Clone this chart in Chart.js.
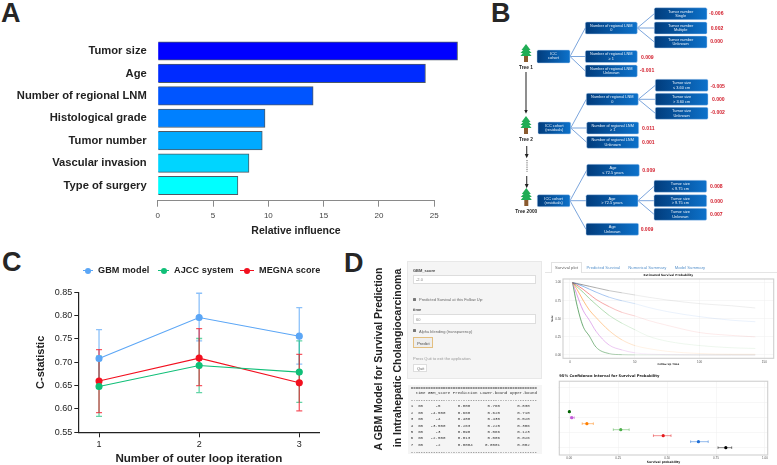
<!DOCTYPE html>
<html><head><meta charset="utf-8">
<style>
html,body{margin:0;padding:0;background:#fff;overflow:hidden;width:777px;height:465px;font-family:"Liberation Sans",Arial,sans-serif}
canvas,.abs,svg{position:absolute}
.abs{white-space:pre;line-height:1;box-sizing:border-box}
</style>
<script src="https://cdn.jsdelivr.net/npm/chart.js@4/dist/chart.umd.min.js"></script>
</head><body>
<script>
/* ---------- Panel A data ---------- */
const influenceLabels=["Tumor size","Age","Number of regional LNM","Histological grade","Tumor number","Vascular invasion","Type of surgery"];
const influenceValues=[27.1,24.2,14.05,9.7,9.45,8.25,7.25];
const influenceColors=["#0000ff","#002bff","#0055ff","#0080ff","#00aaff","#00d5ff","#00ffff"];
const influenceTicks=[0,5,10,15,20,25];

/* ---------- Panel C data ---------- */
const iterations=[1,2,3];
const gbmC=[0.708,0.796,0.756], gbmLow=[0.648,0.746,0.696], gbmHigh=[0.770,0.848,0.817];
const ajccC=[0.648,0.693,0.679], ajccLow=[0.584,0.635,0.614], ajccHigh=[0.713,0.751,0.746];
const megnaC=[0.660,0.709,0.656], megnaLow=[0.592,0.650,0.596], megnaHigh=[0.727,0.772,0.717];

/* ---------- Panel D: survival curves ---------- */
const followUp=[2,5,10,15,20,30,40,50,60,75,100,125,143];
const survA=[1,.99,.97,.95,.93,.89,.86,.83,.80,.76,.71,.68,.65];
const survB=[1,.985,.95,.91,.87,.80,.75,.71,.66,.60,.53,.48,.46];
const survC=[1,.97,.91,.84,.77,.67,.59,.54,.48,.41,.31,.27,.25];
const survD=[1,.95,.87,.78,.70,.55,.44,.35,.263,.19,.13,.10,.09];
const survE=[1,.92,.76,.62,.52,.34,.21,.13,.09,.05,.02,.01,.01];
const survF=[1,.85,.62,.48,.33,.14,.07,.03,.013,.005,0,0,0];
const survG=[1,.72,.40,.26,.11,.02,.004,.001,.0004,0,0,0,0];
const survTicksX=[0,50,100,150], survTicksY=[0,.25,.5,.75,1];

/* ---------- Panel D: prediction table / CI ---------- */
const tScores=["-5","-4.500","-4","-3.500","-3","-2.500","-2"];
const tPred=["0.800","0.660","0.480","0.263","0.090","0.013","0.0004"];
const tLow=["0.760","0.620","0.430","0.225","0.066","0.006","0.0001"];
const tHigh=["0.830","0.710","0.520","0.306","0.123","0.026","0.002"];
const ciRows=[1,2,3,4,5,6,7];
const ciColors=["#000000","#1f6fd6","#e41a1c","#4daf4a","#ff7f00","#c45cd9","#006400"];
const ciTicksX=[0,.25,.5,.75,1], ciTicksY=[1,3.5,6,8.5,11];

/* ---------- Panel B text ---------- */
const bNodeText=[
 ["ICC","cohort"],
 ["Number of regional LNM","0"],["Number of regional LNM","≥ 1"],["Number of regional LNM","Unknown"],
 ["Tumor number","Single"],["Tumor number","Multiple"],["Tumor number","Unknown"],
 ["ICC cohort","(residuals)"],
 ["Number of regional LNM","0"],["Number of regional LNM","≥ 1"],["Number of regional LNM","Unknown"],
 ["Tumor size","≤ 3.60 cm"],["Tumor size","> 3.60 cm"],["Tumor size","Unknown"],
 ["ICC cohort","(residuals)"],
 ["Age","≤ 72.5 years"],["Age","> 72.5 years"],["Age","Unknown"],
 ["Tumor size","≤ 9.75 cm"],["Tumor size","> 9.75 cm"],["Tumor size","Unknown"]];
const bLeafValues=["-0.006","0.002","0.000","0.009","-0.001","-0.005","0.000","-0.002","0.011","0.001","0.009","0.008","0.000","0.007","0.009"];
const bTreeNames=["Tree 1","Tree 2","Tree 2000"];

/* ---------- Layout for the diagram (B) ---------- */
const bBoxes=[[537,50,33,13],[585.3,22,52,12],[585.3,50.5,52,12],[585.3,65,52,12],[654.3,7.7,52.7,12],[654.3,22,52.7,12],[654.3,36,52.7,12],
 [538,122,32.7,12],[586.3,93.3,52,12],[586.7,122,52,12],[586.7,136.3,52,12],[655.3,79.3,52.7,12],[655.3,93.3,52.7,12],[655.3,107.3,52.7,12],
 [537.3,194.7,32.7,12],[586.7,164.3,52.6,12],[586,194.7,52,12],[586,223.3,52.6,12],[654,180.3,52.7,12],[654,194.7,52.7,12],[654,208.3,52.7,12]];
const bEdges=[[0,1],[0,2],[0,3],[1,4],[1,5],[1,6],[7,8],[7,9],[7,10],[8,11],[8,12],[8,13],[14,15],[14,16],[14,17],[16,18],[16,19],[16,20]];
const bLeafPos=[[716.3,13],[717,28.3],[716.5,41.3],[647.3,57],[647,70],[717.7,85.7],[718.3,99],[717.7,112.3],[648.3,127.7],[648.3,142.3],[648.7,170],[716.3,186],[716.5,200.7],[716.3,214.3],[647,229.3]];
const bTrees=[[526,44,67],[526,116,139],[526.3,188,211]];

const SANS='"Liberation Sans",Arial,sans-serif';
Chart.defaults.animation=false;
Chart.defaults.responsive=false;
Chart.defaults.devicePixelRatio=1;
Chart.defaults.font.family=SANS;
Chart.defaults.plugins.legend.display=false;
Chart.defaults.plugins.tooltip.enabled=false;

function add(tag,css,text){const e=document.createElement(tag);e.style.cssText=css;if(text!==undefined)e.textContent=text;document.body.appendChild(e);return e;}
function box(x,y,w,h,css,text){return add('div',`left:${x}px;top:${y}px;width:${w}px;height:${h}px;${css||''}`,text);}
function label(x,y,text,css){const e=add('div',`left:${x}px;top:${y}px;${css||''}`,text);e.className='abs';return e;}
function canvasAt(x,y,w,h){const c=document.createElement('canvas');c.width=w;c.height=h;c.style.left=x+'px';c.style.top=y+'px';c.style.width=w+'px';c.style.height=h+'px';document.body.appendChild(c);return c;}
const fixW=w=>s=>{s.width=w;s.paddingTop=0;s.paddingBottom=0;};
const fixH=h=>s=>{s.height=h;s.paddingLeft=0;s.paddingRight=0;};

/* error bars drawn through the chart's own scales */
const errorBars={id:'errorBars',beforeDatasetsDraw(chart){
  const ctx=chart.ctx;
  chart.data.datasets.forEach(ds=>{
    if(!ds.errLow)return;
    const xs=chart.scales.x,ys=chart.scales.y,cap=ds.errCap;
    ds.data.forEach((p,i)=>{
      ctx.save();
      ctx.strokeStyle=Array.isArray(ds.errColor)?ds.errColor[i]:ds.errColor;
      ctx.lineWidth=ds.errWidth;
      ctx.beginPath();
      if(ds.errAxis==='y'){
        const x=xs.getPixelForValue(p.x),a=ys.getPixelForValue(ds.errLow[i]),b=ys.getPixelForValue(ds.errHigh[i]);
        ctx.moveTo(x,a);ctx.lineTo(x,b);ctx.moveTo(x-cap,a);ctx.lineTo(x+cap,a);ctx.moveTo(x-cap,b);ctx.lineTo(x+cap,b);
      }else{
        const y=ys.getPixelForValue(p.y),a=xs.getPixelForValue(ds.errLow[i]),b=xs.getPixelForValue(ds.errHigh[i]);
        ctx.moveTo(a,y);ctx.lineTo(b,y);ctx.moveTo(a,y-cap);ctx.lineTo(a,y+cap);ctx.moveTo(b,y-cap);ctx.lineTo(b,y+cap);
      }
      ctx.stroke();ctx.restore();
    });
  });
}};
const frame={id:'frame',afterDraw(chart,args,o){
  if(!o.color)return;const a=chart.chartArea,c=chart.ctx;c.save();c.strokeStyle=o.color;c.lineWidth=o.width;c.strokeRect(a.left,a.top,a.width,a.height);c.restore();
}};

/* ---------- Panel letters ---------- */
[["A",1,-2],["B",491,-2],["C",2,247],["D",344,248]].forEach(([t,x,y])=>label(x,y,t,`font:bold 27px ${SANS};color:#262626;`));

/* ---------- Panel A ---------- */
new Chart(canvasAt(0,30,480,215),{type:'bar',
 data:{datasets:[{data:influenceValues.map((v,i)=>({x:v,y:i})),backgroundColor:influenceColors,borderColor:'#4d5a66',borderWidth:1,barThickness:18.5,clip:false}]},
 options:{indexAxis:'y',layout:{autoPadding:false,padding:{top:9.8,right:45.7,bottom:7.4,left:0}},
  scales:{
   y:{type:'linear',offset:false,min:-0.5,max:6.68,reverse:true,afterFit:fixW(157.7),
      afterBuildTicks:s=>{s.ticks=influenceLabels.map((_,i)=>({value:i}));},
      grid:{display:false,drawTicks:false},border:{display:false},
      ticks:{autoSkip:false,padding:11,color:'#222',font:{size:11.2,weight:'bold'},callback:v=>influenceLabels[v]}},
   x:{type:'linear',min:0,max:25,afterFit:fixH(36.9),
      afterBuildTicks:s=>{s.ticks=influenceTicks.map(v=>({value:v}));},
      grid:{drawOnChartArea:false,tickLength:6,color:'#8a8a8a'},border:{color:'#8a8a8a'},
      ticks:{padding:4,color:'#444',font:{size:8},maxRotation:0},
      title:{display:true,text:'Relative influence',color:'#222',padding:0,font:{size:10.5,weight:'bold'}}}
  }}});

/* ---------- Panel B ---------- */
(function(){
 const NS='http://www.w3.org/2000/svg';
 const s=document.createElementNS(NS,'svg');
 s.setAttribute('width',777);s.setAttribute('height',245);s.style.left='0';s.style.top='0';
 const mk=(n,a,t)=>{const e=document.createElementNS(NS,n);for(const k in a)e.setAttribute(k,a[k]);if(t!==undefined)e.textContent=t;s.appendChild(e);return e;};
 const defs=mk('defs',{});
 const g=document.createElementNS(NS,'linearGradient');g.id='nodeFill';
 [['0%','#013c7c'],['100%','#0d72cb']].forEach(([o,c])=>{const st=document.createElementNS(NS,'stop');st.setAttribute('offset',o);st.setAttribute('stop-color',c);g.appendChild(st);});
 defs.appendChild(g);
 const m=document.createElementNS(NS,'marker');m.id='arrow';m.setAttribute('markerWidth',4);m.setAttribute('markerHeight',4);m.setAttribute('refX',2);m.setAttribute('refY',2);m.setAttribute('orient','auto');
 const mp=document.createElementNS(NS,'path');mp.setAttribute('d','M0,0.4L3.4,2L0,3.6z');mp.setAttribute('fill','#222');m.appendChild(mp);defs.appendChild(m);
 bEdges.forEach(([a,b])=>{const p=bBoxes[a],q=bBoxes[b];
   mk('line',{x1:p[0]+p[2],y1:p[1]+p[3]/2,x2:q[0],y2:q[1]+q[3]/2,stroke:'#6c9bd8','stroke-width':.9});});
 bBoxes.forEach((r,i)=>{
   mk('rect',{x:r[0],y:r[1],width:r[2],height:r[3],rx:1.5,fill:'url(#nodeFill)',stroke:'#b5d0f0','stroke-width':.5});
   bNodeText[i].forEach((t,k)=>mk('text',{x:r[0]+r[2]/2,y:r[1]+4.9+k*4.4,'text-anchor':'middle','font-size':3.9,'font-family':SANS,fill:'#e8f1fb'},t));
 });
 bLeafValues.forEach((t,i)=>mk('text',{x:bLeafPos[i][0],y:bLeafPos[i][1]+1.9,'text-anchor':'middle','font-size':5.1,'font-weight':'bold','font-family':SANS,fill:'#d3202e'},t));
 bTrees.forEach(([cx,top,ly],i)=>{
   mk('rect',{x:cx-2,y:top+10.5,width:4,height:7.5,fill:'#8a5a2e'});
   mk('polygon',{points:`${cx},${top} ${cx+4.5},${top+6} ${cx-4.5},${top+6}`,fill:'#21ad55'});
   mk('polygon',{points:`${cx},${top+3} ${cx+5.5},${top+9} ${cx-5.5},${top+9}`,fill:'#21ad55'});
   mk('polygon',{points:`${cx},${top+5} ${cx+5.5},${top+12} ${cx-5.5},${top+12}`,fill:'#21ad55'});
   mk('text',{x:cx,y:ly+1.8,'text-anchor':'middle','font-size':4.8,'font-weight':'bold','font-family':SANS,fill:'#222'},bTreeNames[i]);
 });
 [[526,72,526,112],[526.7,146,526.7,156.5],[526.7,176,526.7,186.5]].forEach(([x1,y1,x2,y2])=>
   mk('line',{x1,y1,x2,y2,stroke:'#444','stroke-width':1.2,'marker-end':'url(#arrow)'}));
 mk('line',{x1:527,y1:160,x2:527,y2:172,stroke:'#666','stroke-width':1,'stroke-dasharray':'1 .8'});
 document.body.appendChild(s);
})();

/* ---------- Panel C ---------- */
const xy=arr=>arr.map((v,i)=>({x:iterations[i],y:v}));
const cSeries=(name,vals,low,high,color,err)=>({label:name,data:xy(vals),errLow:low,errHigh:high,errAxis:'y',errCap:3,errWidth:1.3,errColor:err,
  borderColor:color,backgroundColor:color,pointBackgroundColor:color,pointBorderColor:color,pointRadius:3,borderWidth:1.1,tension:0});
new Chart(canvasAt(0,240,340,230),{type:'line',
 data:{datasets:[
   cSeries('GBM model',gbmC,gbmLow,gbmHigh,'#5ba6f6','rgba(91,166,246,.7)'),
   cSeries('AJCC system',ajccC,ajccLow,ajccHigh,'#10bf78','rgba(16,191,120,.65)'),
   cSeries('MEGNA score',megnaC,megnaLow,megnaHigh,'#f2101f','rgba(242,16,31,.7)')]},
 options:{layout:{autoPadding:false,padding:{top:52.3,right:20.7,bottom:4.5,left:0}},
  scales:{
   x:{type:'linear',min:0.793,max:3.2,afterFit:fixH(33.2),
      afterBuildTicks:s=>{s.ticks=iterations.map(v=>({value:v}));},
      grid:{drawOnChartArea:false,tickLength:5,color:'#222',lineWidth:1},border:{color:'#222',width:1.2},
      ticks:{padding:2,color:'#222',font:{size:9},maxRotation:0,callback:v=>String(v)},
      title:{display:true,text:'Number of outer loop iteration',color:'#222',padding:0,font:{size:11.6,weight:'bold'}}},
   y:{type:'linear',min:.55,max:.85,afterFit:fixW(78.3),
      grid:{drawOnChartArea:false,tickLength:4,color:'#222',lineWidth:1},border:{color:'#222',width:1.2},
      ticks:{stepSize:.05,padding:2,color:'#222',font:{size:9},callback:v=>v.toFixed(2)},
      title:{display:true,text:'C-statistic',color:'#222',padding:{top:34,bottom:0},font:{size:11,weight:'bold'}}}
  }},plugins:[errorBars]});
/* legend */
[[83,98,'GBM model','#5ba6f6'],[158,174,'AJCC system','#10bf78'],[240,259,'MEGNA score','#f2101f']].forEach(([kx,tx,t,c],i)=>{
  const w=tx-kx-5;
  box(kx,270,w,1.2,`position:absolute;background:${c};`);
  box(kx+w/2-3,267.6,6,6,`position:absolute;border-radius:50%;background:${c};`);
  label(tx,265.2,t,`font:bold 9.1px ${SANS};color:#222;letter-spacing:.1px;`);
});

/* ---------- Panel D: title ---------- */
label(378,358.5,'A GBM Model for Survival Prediction',`font:bold 10.5px ${SANS};color:#222;transform:translate(-50%,-50%) rotate(-90deg);`);
label(397,357.5,'in Intrahepatic Cholangiocarcinoma',`font:bold 10.5px ${SANS};color:#222;transform:translate(-50%,-50%) rotate(-90deg);`);

/* ---------- Panel D: controls ---------- */
const abs='position:absolute;box-sizing:border-box;';
box(407.3,261,134.7,118,abs+'background:#f5f5f5;border:.5px solid #e8e8e8;');
const small=`font:4px ${SANS};color:#666;`, smallB=`font:bold 4px ${SANS};color:#444;`;
label(413,268,'GBM_score',smallB);
box(413,274.7,123.3,9,abs+'background:#fff;border:.5px solid #ddd;');
label(416,277,'-2.0',small+'color:#888;');
const tick=(y)=>{box(413,y-1.3,2.6,2.6,abs+'background:#777;border-radius:.5px;');};
tick(299.3);label(419,297.3,'Predicted Survival at this Follow Up:',small);
label(413,307,'time',smallB);
box(413,314,123.3,9.7,abs+'background:#fff;border:.5px solid #ddd;');
label(416,316.9,'60',small+'color:#888;');
tick(330.7);label(419,328.7,'Alpha blending (transparency)',small);
box(413,337.3,20,10.4,abs+'background:#eee;border:.8px solid #e3bf80;');
label(417.2,340.5,'Predict',small+'color:#444;');
label(413,355.7,'Press Quit to exit the application.',small+'color:#999;');
box(413,363.7,14.3,8.6,abs+'background:#fff;border:.5px solid #ddd;');
label(417,366,'Quit',small);

/* console */
box(408,385,134,68.7,abs+'background:#f5f5f5;');
const cw=2.48, mono=`font:4.13px "Liberation Mono",monospace;color:#333;`;
const put=(row,col,t)=>label(410.7+col*cw,row,t,mono);
put(386,0,'='.repeat(51));
put(391.2,2,'time GBM_score Prediction Lower.bound Upper.bound');
put(397.7,0,'-'.repeat(51));
ciRows.forEach((r,i)=>{
  const y=404.2+i*6.44;
  put(y,0,String(r));put(y,3,'60');
  put(y,tScores[i].length<3?10:8,tScores[i]);
  put(y,19,tPred[i]);
  put(y,tLow[i].length>5?30:31,tLow[i]);
  put(y,43,tHigh[i]);
});
put(449.6,0,'-'.repeat(51));

/* tabs */
box(545,272.2,232,.6,abs+'background:#e5e5e5;');
box(550.7,261.7,31,11,abs+'background:#fff;border:.5px solid #e2e2e2;border-bottom:none;');
label(555,265,'Survival plot',`font:4.2px ${SANS};color:#666;`);
[[586.5,'Predicted Survival'],[628.3,'Numerical Summary'],[674.7,'Model Summary']].forEach(([x,t])=>label(x,265,t,`font:4.2px ${SANS};color:#5b94cc;`));

/* ---------- Panel D: survival curves ---------- */
const fade=(rgb)=>ctx=>{const t=ctx.p0.parsed.x;return `rgba(${rgb},${Math.max(.13,.85-t/70)})`;};
const survLine=(vals,rgb)=>({data:vals.map((v,i)=>({x:followUp[i],y:v})),borderWidth:.8,pointRadius:0,tension:.25,cubicInterpolationMode:'monotone',borderColor:`rgb(${rgb})`,segment:{borderColor:fade(rgb)}});
const tinyAxis={grid:{color:'#efefef',lineWidth:.5,tickLength:1.2},border:{display:false}};
new Chart(canvasAt(545,273,232,95),{type:'line',
 data:{datasets:[survLine(survA,'90,90,90'),survLine(survB,'60,130,225'),survLine(survC,'235,60,60'),survLine(survD,'90,180,90'),survLine(survE,'255,140,30'),survLine(survF,'200,100,220'),survLine(survG,'20,120,30')]},
 options:{layout:{autoPadding:false,padding:{top:0,right:3.3,bottom:2.3,left:0}},
  plugins:{frame:{color:'#cfcfcf',width:1.1},title:{display:true,fullSize:false,text:'Estimated Survival Probability',color:'#222',padding:{top:1,bottom:1.5},font:{size:2.9,weight:'bold',family:'"DejaVu Sans"'}}},
  scales:{
   x:{type:'linear',min:-5.4,max:157.2,afterFit:fixH(7.4),...tinyAxis,
      afterBuildTicks:s=>{s.ticks=survTicksX.map(v=>({value:v}));},
      ticks:{padding:.5,color:'#555',font:{size:3},maxRotation:0},
      title:{display:true,text:'Follow Up Time',color:'#222',padding:0,font:{size:2.5,weight:'bold',family:'"DejaVu Sans"'}}},
   y:{type:'linear',min:-0.046,max:1.051,afterFit:fixW(18),...tinyAxis,
      afterBuildTicks:s=>{s.ticks=survTicksY.map(v=>({value:v}));},
      ticks:{padding:.8,color:'#555',font:{size:3},callback:v=>v.toFixed(2)},
      title:{display:true,text:'Surv',color:'#222',padding:{top:5.8,bottom:0},font:{size:2.5,weight:'bold',family:'"DejaVu Sans"'}}}
  }},plugins:[frame]});

/* ---------- Panel D: CI chart ---------- */
new Chart(canvasAt(545,372,232,93),{type:'scatter',
 data:{datasets:[{data:tPred.map((v,i)=>({x:+v,y:ciRows[i]})),errLow:tLow.map(Number),errHigh:tHigh.map(Number),errAxis:'x',errCap:1.3,errWidth:.7,
   errColor:ciColors.map(c=>c+'b0'),pointRadius:1.6,pointBackgroundColor:ciColors,pointBorderColor:ciColors,pointBorderWidth:0}]},
 options:{layout:{autoPadding:false,padding:{top:1.6,right:9.3,bottom:1.3,left:0}},
  plugins:{frame:{color:'#cfcfcf',width:1.1},title:{display:true,fullSize:false,align:'start',text:'95% Confidence Interval for Survival Probability',color:'#222',padding:{top:0,bottom:3.2},font:{size:3.7,weight:'bold',family:'"DejaVu Sans"'}}},
  scales:{
   x:{type:'linear',min:-0.051,max:1.014,afterFit:fixH(8.7),...tinyAxis,
      afterBuildTicks:s=>{s.ticks=ciTicksX.map(v=>({value:v}));},
      ticks:{padding:.3,color:'#555',font:{size:3},maxRotation:0,callback:v=>v.toFixed(2)},
      title:{display:true,text:'Survival probability',color:'#222',padding:0,font:{size:3,weight:'bold',family:'"DejaVu Sans"'}}},
   y:{type:'linear',min:-0.22,max:12.07,afterFit:fixW(14.3),...tinyAxis,
      afterBuildTicks:s=>{s.ticks=ciTicksY.map(v=>({value:v}));},
      ticks:{display:false}}
  }},plugins:[errorBars,frame]});
</script>
</body></html>
